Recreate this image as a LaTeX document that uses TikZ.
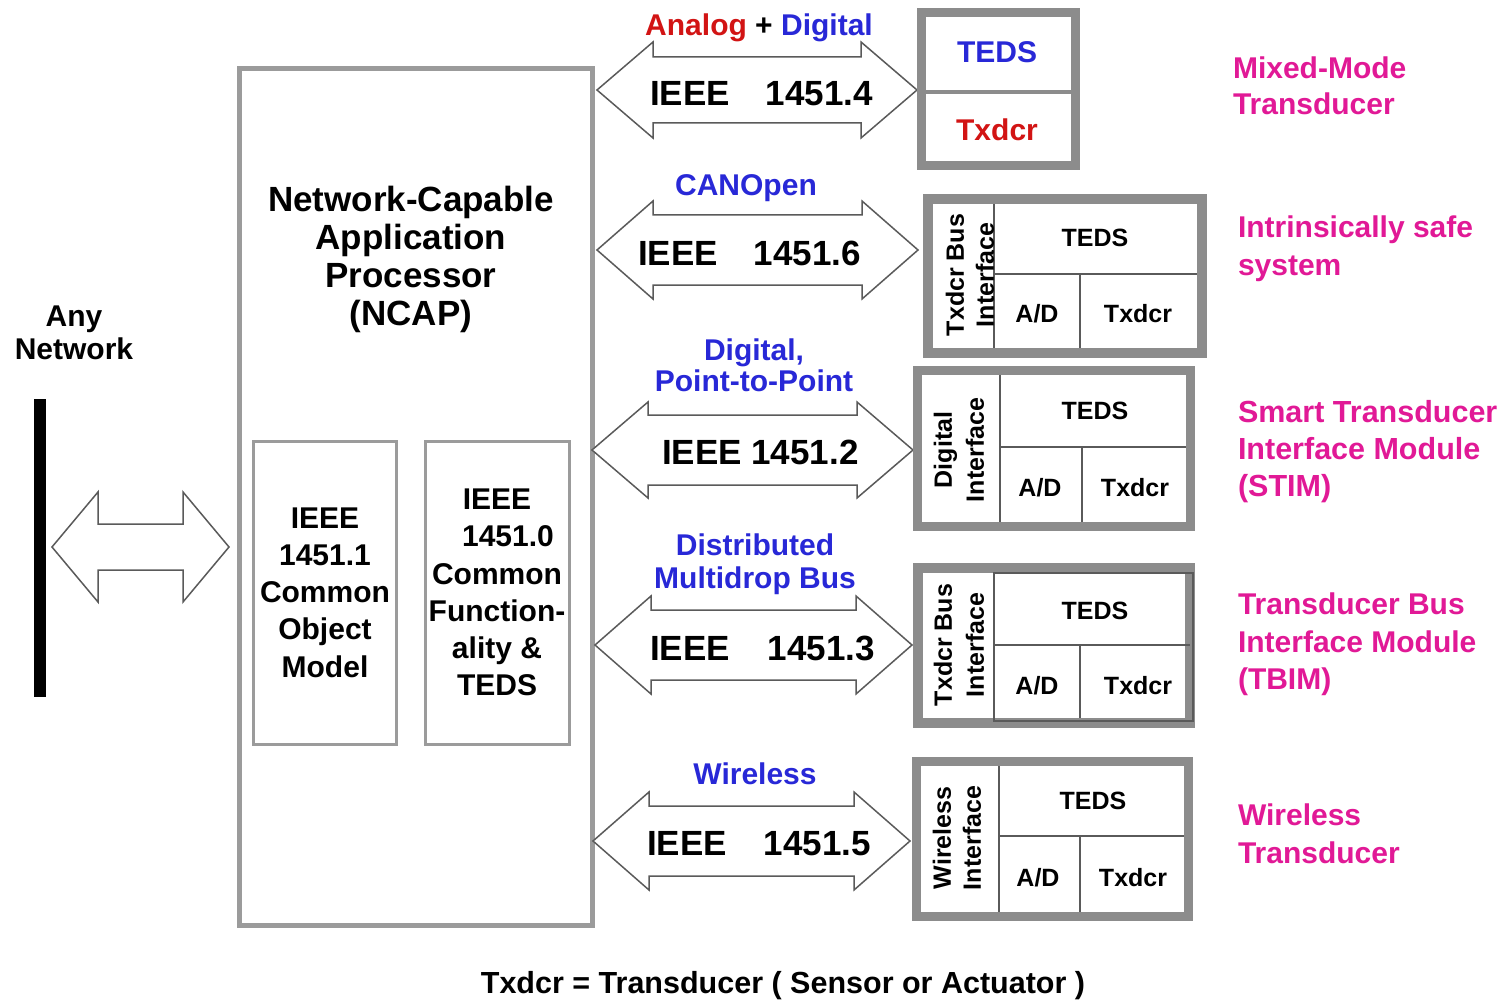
\documentclass[tikz,border=0pt]{standalone}
\usepackage{fontspec}
\setmainfont{Liberation Sans}
\definecolor{nblue}{RGB}{40,40,215}
\definecolor{nred}{RGB}{210,20,20}
\definecolor{nmag}{RGB}{225,25,150}
\definecolor{bgray}{RGB}{140,140,140}
\definecolor{lgray}{RGB}{155,155,155}
\definecolor{agray}{RGB}{90,90,90}
\newcommand{\ieeearrow}[6]{%
 \draw[arrowshape] (#1,#3) -- ({#1+#4},{#3-#5}) -- ({#1+#4},{#3-#6}) -- ({#2-#4},{#3-#6}) -- ({#2-#4},{#3-#5}) -- (#2,#3) -- ({#2-#4},{#3+#5}) -- ({#2-#4},{#3+#6}) -- ({#1+#4},{#3+#6}) -- ({#1+#4},{#3+#5}) -- cycle;}
\begin{document}
\begin{tikzpicture}[x=1pt,y=-1pt,
  every node/.style={inner sep=0pt, outer sep=0pt},
  t30/.style={font=\bfseries\fontsize{30}{37.3}\selectfont, align=center},
  t35/.style={font=\bfseries\fontsize{35}{38}\selectfont, align=center},
  t25/.style={font=\bfseries\fontsize{25}{30}\selectfont, align=center},
  vt/.style={font=\bfseries\fontsize{25}{30}\selectfont, align=center, rotate=90},
  lab/.style={font=\bfseries\fontsize{30}{37.3}\selectfont, align=left, anchor=west, text=nmag},
  ncapline/.style={draw=lgray, line width=5pt},
  innerline/.style={draw=lgray, line width=3pt},
  rboxline/.style={draw=bgray, line width=9pt},
  divline/.style={draw=agray, line width=2.5pt},
  arrowshape/.style={draw=agray, line width=1.5pt, fill=white, line join=miter},
]
\useasboundingbox (0,0) rectangle (1509,1000);
\fill[white] (0,0) rectangle (1509,1000);

% NCAP
\draw[ncapline] (239.5,68.5) rectangle (592.5,925.5);
\node[t35] (ncap) at (411,259.5) {Network-Capable\\Application\\Processor\\(NCAP)};
\draw[innerline] (253.5,441.5) rectangle (396.5,744.5);
\draw[innerline] (425.5,441.5) rectangle (569.5,744.5);
\node[t30] (com) at (325,592.5) {IEEE\\1451.1\\Common\\Object\\Model};
\node[t30] (cf) at (497,592.5) {IEEE\\\hspace*{22pt}1451.0\\Common\\Function-\\ality \&\\TEDS};

% network side
\node[t30, font=\bfseries\fontsize{30}{33}\selectfont] (net) at (74,332.5) {Any\\Network};
\node[fill=black, minimum width=12pt, minimum height=298pt] (bar) at (40,548) {};
\ieeearrow{52}{229}{547}{46}{55}{23}

% arrows
\ieeearrow{597}{917}{90}{56}{48}{33}
\ieeearrow{597}{918}{250}{56}{49}{35}
\ieeearrow{592}{913}{450}{56}{48}{35}
\ieeearrow{595}{912}{645}{56}{49}{35}
\ieeearrow{593}{910}{841}{56}{49}{35}

\node[t35, anchor=base west] (a4) at (650,105.5) {IEEE\hspace{36pt}1451.4};
\node[t35, anchor=base west] (a6) at (638,265.5) {IEEE\hspace{36pt}1451.6};
\node[t35, anchor=base west] (a2) at (662,464.5) {IEEE 1451.2};
\node[t35, anchor=base west] (a3) at (650,660.5) {IEEE\hspace{38pt}1451.3};
\node[t35, anchor=base west] (a5) at (647,855.5) {IEEE\hspace{37pt}1451.5};

\node[t30, anchor=base] (l4) at (759,36) {\textcolor{nred}{Analog} + \textcolor{nblue}{Digital}};
\node[t30, anchor=base, text=nblue] (l6) at (746,196) {CANOpen};
\node[t30, text=nblue, font=\bfseries\fontsize{30}{31}\selectfont] (l2) at (754,365.5) {Digital,\\Point-to-Point};
\node[t30, text=nblue, font=\bfseries\fontsize{30}{33}\selectfont] (l3) at (755,564.5) {Distributed\\Multidrop Bus};
\node[t30, anchor=base, text=nblue] (l5) at (755,784) {Wireless};

% box 1 mixed-mode
\draw[rboxline] (921,12.5) rectangle (1075,166);
\draw[bgray, line width=4pt] (925,92) -- (1071,92);
\node[t30, text=nblue, anchor=base] (teds1) at (997,63) {TEDS};
\node[t30, text=nred, anchor=base] (tx1) at (997,141) {Txdcr};

% box 2
\draw[rboxline, line width=10pt] (928,199) rectangle (1202,352.5);
\draw[divline] (994,204) -- (994,348);
\draw[divline] (994,274) -- (1197,274);
\draw[divline] (1080,274) -- (1080,348);
\node[t25, anchor=base] (teds2) at (1095,247) {TEDS};
\node[t25, anchor=base] (ad2) at (1037,322) {A/D};
\node[t25, anchor=base] (tx2) at (1138,322) {Txdcr};
\node[vt] (if2) at (970,275) {Txdcr Bus\\Interface};

% box 3
\draw[rboxline] (917.5,370.5) rectangle (1190.5,526.5);
\draw[divline] (1000,375) -- (1000,522);
\draw[divline] (1000,447) -- (1186,447);
\draw[divline] (1082,447) -- (1082,522);
\node[t25, anchor=base] (teds3) at (1095,419) {TEDS};
\node[t25, anchor=base] (ad3) at (1040,496) {A/D};
\node[t25, anchor=base] (tx3) at (1135,496) {Txdcr};
\node[vt, font=\bfseries\fontsize{25}{32}\selectfont] (if3) at (959,450) {Digital\\Interface};

% box 4
\draw[rboxline, line width=10pt] (917.5,567.5) rectangle (1190,722.5);
\draw[agray, line width=2pt] (994,573) rectangle (1193,721);
\draw[divline] (994,645) -- (1190,645);
\draw[divline] (1080,645) -- (1080,718);
\node[t25, anchor=base] (teds4) at (1095,619) {TEDS};
\node[t25, anchor=base] (ad4) at (1037,694) {A/D};
\node[t25, anchor=base] (tx4) at (1138,694) {Txdcr};
\node[vt, font=\bfseries\fontsize{25}{32}\selectfont] (if4) at (959,645) {Txdcr Bus\\Interface};

% box 5
\draw[rboxline] (916.5,761.5) rectangle (1188,916);
\draw[divline] (999,766) -- (999,912);
\draw[divline] (999,836) -- (1184,836);
\draw[divline] (1080,836) -- (1080,912);
\node[t25, anchor=base] (teds5) at (1093,809) {TEDS};
\node[t25, anchor=base] (ad5) at (1038,886) {A/D};
\node[t25, anchor=base] (tx5) at (1133,886) {Txdcr};
\node[vt] (if5) at (957,838) {Wireless\\Interface};

% right labels
\node[lab, font=\bfseries\fontsize{30}{36}\selectfont] (r1) at (1233,86) {Mixed-Mode\\Transducer};
\node[lab, font=\bfseries\fontsize{30}{38}\selectfont] (r2) at (1238,249) {Intrinsically safe\\system};
\node[lab, font=\bfseries\fontsize{30.5}{37.3}\selectfont] (r3) at (1238,451.5) {Smart Transducer\\Interface Module\\(STIM)};
\node[lab] (r4) at (1238,644.5) {Transducer Bus\\Interface Module\\(TBIM)};
\node[lab, font=\bfseries\fontsize{30}{38}\selectfont] (r5) at (1238,834) {Wireless\\Transducer};

% footnote
\node[t30, font=\bfseries\fontsize{30.5}{36}\selectfont, anchor=base] (foot) at (783,993) {Txdcr = Transducer ( Sensor or Actuator )};
\end{tikzpicture}
\end{document}
